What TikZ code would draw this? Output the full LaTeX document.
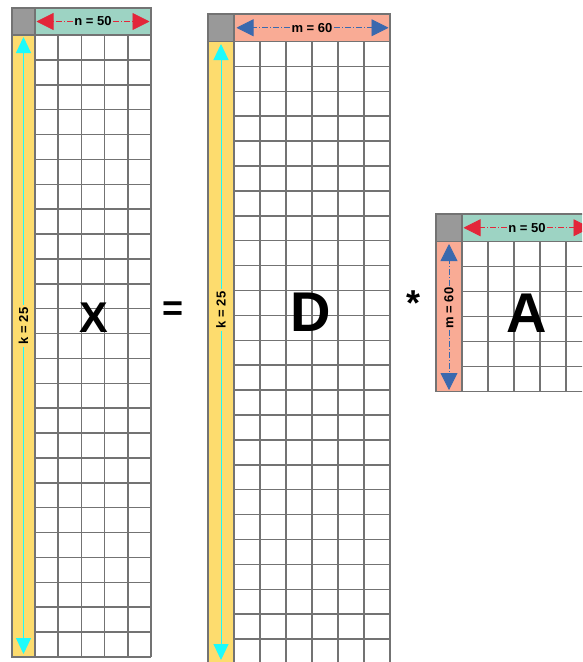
\documentclass[tikz,border=0pt]{standalone}
\usepackage{fontspec}
\setmainfont{Liberation Sans}
\usetikzlibrary{arrows.meta}
\definecolor{hgreen}{HTML}{9DD3C3}
\definecolor{hsalmon}{HTML}{F9AB95}
\definecolor{hyellow}{HTML}{FDDC6E}
\definecolor{hcorner}{HTML}{999999}
\definecolor{gline}{HTML}{737373}
\definecolor{ared}{HTML}{E3263A}
\definecolor{ablue}{HTML}{3A69AE}
\definecolor{acyan}{HTML}{1DFBFB}
\tikzset{
  gl/.style={draw=gline, line width=1.5pt},
  boxcell/.style={draw=gline, line width=1.5pt, inner sep=0pt, outer sep=0pt},
  lab/.style={font=\fontsize{13}{13}\selectfont\bfseries, inner sep=1.5pt},
  vlab/.style={font=\fontsize{13}{13}\selectfont\bfseries, inner sep=3pt, rotate=90},
  bigl/.style={font=\fontsize{56}{56}\selectfont\bfseries, inner sep=0pt},
  ops/.style={font=\fontsize{36}{36}\selectfont\bfseries, inner sep=0pt, anchor=base},
  redarr/.style={draw=ared, line width=0.8pt, dash pattern=on 6pt off 2pt on 1pt off 2pt, -{Triangle[length=17pt,width=17pt]}, ared},
  bluearr/.style={draw=ablue, line width=0.8pt, dash pattern=on 6pt off 2pt on 1pt off 2pt, -{Triangle[length=17pt,width=17pt]}, ablue},
  cyanarr/.style={draw=acyan, line width=1pt, -{Triangle[length=16pt,width=15pt]}, acyan},
}
\begin{document}
\begin{tikzpicture}[x=1pt,y=-1pt]
\clip (0,0) rectangle (582,662);
% ---------------- Matrix X ----------------
\fill[hyellow] (12,35) rectangle (35,657);
\foreach \i in {0,...,5} \draw[gl] ({35+\i*23.2},35) -- ({35+\i*23.2},657);
\foreach \j in {0,...,25} \draw[gl] (35,{35+\j*24.88}) -- (151,{35+\j*24.88});
\draw[gl] (12,35) rectangle (35,657);
\node[boxcell, fill=hcorner, minimum width=23, minimum height=27] (Xc) at (23.5,21.5) {};
\node[boxcell, fill=hgreen, minimum width=116, minimum height=27] (Xh) at (93,21.5) {};
\node[lab] (Xn) at (93,21.5) {n = 50};
\coordinate (XhL) at (36.5,21.5);
\coordinate (XhR) at (149.5,21.5);
\draw[redarr] (Xn.west) -- (XhL);
\draw[redarr] (Xn.east) -- (XhR);
\node[vlab] (Xk) at (23.5,326) {k = 25};
\coordinate (XkT) at (23.5,37);
\coordinate (XkB) at (23.5,654);
\draw[cyanarr] (Xk.east) -- (XkT);
\draw[cyanarr] (Xk.west) -- (XkB);
\node[bigl, font=\fontsize{43}{43}\selectfont\bfseries] (Xl) at (93.5,318) {X};
% ---------------- equals ----------------
\node[ops] (eq) at (173,320) {=};
% ---------------- Matrix D ----------------
\fill[hyellow] (208,41.5) rectangle (234,666);
\foreach \i in {0,...,6} \draw[gl] ({234+\i*26},41.5) -- ({234+\i*26},666);
\foreach \j in {0,...,25} \draw[gl] (234,{41.5+\j*24.9}) -- (390,{41.5+\j*24.9});
\draw[gl] (208,41.5) rectangle (234,666);
\node[boxcell, fill=hcorner, minimum width=26, minimum height=27.5] (Dc) at (221,27.75) {};
\node[boxcell, fill=hsalmon, minimum width=156, minimum height=27.5] (Dh) at (312,27.75) {};
\node[lab] (Dm) at (312,27.75) {m = 60};
\coordinate (DhL) at (236.5,27.75);
\coordinate (DhR) at (388.5,27.75);
\draw[bluearr] (Dm.west) -- (DhL);
\draw[bluearr] (Dm.east) -- (DhR);
\node[vlab] (Dk) at (221,310) {k = 25};
\coordinate (DkT) at (221,44);
\coordinate (DkB) at (221,660);
\draw[cyanarr] (Dk.east) -- (DkT);
\draw[cyanarr] (Dk.west) -- (DkB);
\node[bigl] (Dl) at (310.5,312.7) {D};
% ---------------- star ----------------
\node[ops] (st) at (414,315) {*};
% ---------------- Matrix A ----------------
\fill[hsalmon] (436,241.5) rectangle (462,391.5);
\foreach \i in {0,...,5} \draw[gl] ({462+\i*26},241.5) -- ({462+\i*26},391.5);
\foreach \j in {0,...,6} \draw[gl] (462,{241.5+\j*25}) -- (592,{241.5+\j*25});
\draw[gl] (436,241.5) rectangle (462,391.5);
\node[boxcell, fill=hcorner, minimum width=26, minimum height=27.5] (Ac) at (449,227.75) {};
\node[boxcell, fill=hgreen, minimum width=130, minimum height=27.5] (Ah) at (527,227.75) {};
\node[lab] (An) at (527,227.75) {n = 50};
\coordinate (AhL) at (463.5,227.75);
\coordinate (AhR) at (590.5,227.75);
\draw[redarr] (An.west) -- (AhL);
\draw[redarr] (An.east) -- (AhR);
\node[vlab, inner sep=1.5pt] (Am) at (449,308) {m = 60};
\coordinate (AmT) at (449,244);
\coordinate (AmB) at (449,390);
\draw[bluearr] (Am.east) -- (AmT);
\draw[bluearr] (Am.west) -- (AmB);
\node[bigl] (Al) at (527,313.3) {A};
\end{tikzpicture}
\end{document}
